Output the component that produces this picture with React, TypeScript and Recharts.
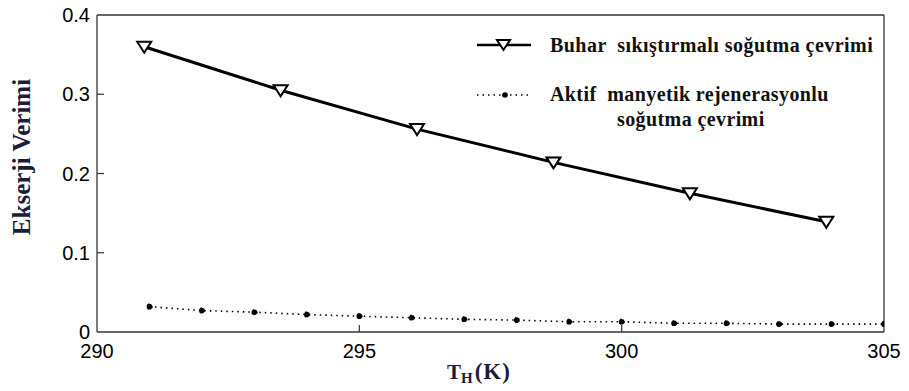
import { LineChart, Line, XAxis, YAxis } from "recharts";

// Buhar sıkıştırmalı soğutma çevrimi (triangles)
const vaporT = [290.9, 293.5, 296.1, 298.7, 301.3, 303.9];
const vaporEff = [0.36, 0.305, 0.256, 0.214, 0.175, 0.139];

// Aktif manyetik rejenerasyonlu soğutma çevrimi (dots)
const magT = [291, 292, 293, 294, 295, 296, 297, 298, 299, 300, 301, 302, 303, 304, 305];
const magEff = [0.032, 0.027, 0.025, 0.022, 0.02, 0.018, 0.016, 0.015, 0.013, 0.013, 0.011, 0.011, 0.01, 0.01, 0.01];

const xTicks = [290, 295, 300, 305];
const yTicks = [0, 0.1, 0.2, 0.3, 0.4];

const vaporData = vaporT.map((x, i) => ({ x, y: vaporEff[i] }));
const magData = magT.map((x, i) => ({ x, y: magEff[i] }));

const AXIS = "#333";
const TICK_FONT = "'Liberation Sans', Arial, sans-serif";
const SERIF = "'Liberation Serif', 'Times New Roman', serif";

const LeftTick = (props: any) => {
  const { x, y, payload } = props;
  const v = payload.value;
  return (
    <g>
      {v > 0 && v < 0.4 && <line x1={x} x2={x + 7} y1={y} y2={y} stroke={AXIS} strokeWidth={1.2} />}
      <text x={x - 7} y={y} dy={7} textAnchor="end" fontSize={20} fontFamily={TICK_FONT} fill="#000">
        {v === 0 ? "0" : v.toFixed(1)}
      </text>
    </g>
  );
};

const RightTick = (props: any) => {
  const { x, y, payload } = props;
  const v = payload.value;
  if (v <= 0 || v >= 0.4) return <g />;
  return <line x1={x} x2={x - 7} y1={y} y2={y} stroke={AXIS} strokeWidth={1.2} />;
};

const BottomTick = (props: any) => {
  const { x, y, payload } = props;
  const v = payload.value;
  return (
    <g>
      {v > 290 && v < 305 && <line x1={x} x2={x} y1={y} y2={y - 7} stroke={AXIS} strokeWidth={1.2} />}
      <text x={x} y={y + 26} textAnchor="middle" fontSize={20} fontFamily={TICK_FONT} fill="#000">
        {v}
      </text>
    </g>
  );
};

const TopTick = (props: any) => {
  const { x, y, payload } = props;
  const v = payload.value;
  if (v <= 290 || v >= 305) return <g />;
  return <line x1={x} x2={x} y1={y} y2={y + 7} stroke={AXIS} strokeWidth={1.2} />;
};

const Triangle = (props: any) => {
  const { cx, cy, index } = props;
  if (cx == null || cy == null) return <g key={index} />;
  return (
    <path
      key={index}
      d={`M${cx - 7},${cy - 5} L${cx + 7},${cy - 5} L${cx},${cy + 6} Z`}
      fill="#fff"
      stroke="#000"
      strokeWidth={2}
    />
  );
};

export default function App() {
  return (
    <div style={{ position: "absolute", left: 0, top: 0, width: 909, height: 391, background: "#fff", overflow: "hidden" }}>
      <LineChart width={909} height={391} margin={{ top: 14, right: 24, bottom: 29, left: 37 }}>
        <XAxis
          xAxisId="b"
          type="number"
          dataKey="x"
          domain={[290, 305]}
          ticks={xTicks}
          allowDataOverflow
          height={30}
          tickSize={0}
          tickMargin={0}
          tickLine={false}
          axisLine={{ stroke: AXIS, strokeWidth: 1.3 }}
          tick={BottomTick}
        />
        <XAxis
          xAxisId="t"
          orientation="top"
          type="number"
          domain={[290, 305]}
          ticks={xTicks}
          height={1}
          tickSize={0}
          tickMargin={0}
          tickLine={false}
          axisLine={{ stroke: AXIS, strokeWidth: 1.3 }}
          tick={TopTick}
        />
        <YAxis
          yAxisId="l"
          type="number"
          domain={[0, 0.4]}
          ticks={yTicks}
          width={60}
          tickSize={0}
          tickMargin={0}
          tickLine={false}
          axisLine={{ stroke: AXIS, strokeWidth: 1.3 }}
          tick={LeftTick}
        />
        <YAxis
          yAxisId="r"
          orientation="right"
          type="number"
          domain={[0, 0.4]}
          ticks={yTicks}
          width={1}
          tickSize={0}
          tickMargin={0}
          tickLine={false}
          axisLine={{ stroke: AXIS, strokeWidth: 1.3 }}
          tick={RightTick}
        />
        <Line
          xAxisId="b"
          yAxisId="l"
          data={magData}
          dataKey="y"
          type="linear"
          stroke="#000"
          strokeWidth={1.6}
          strokeDasharray="1.5 4"
          dot={{ r: 2.8, fill: "#000", stroke: "#000", strokeWidth: 1 }}
          isAnimationActive={false}
        />
        <Line
          xAxisId="b"
          yAxisId="l"
          data={vaporData}
          dataKey="y"
          type="linear"
          stroke="#000"
          strokeWidth={3}
          dot={Triangle}
          isAnimationActive={false}
        />
      </LineChart>

      {/* y axis title */}
      <div
        style={{
          position: "absolute",
          left: 21,
          top: 157,
          transform: "translate(-50%, -50%) rotate(-90deg)",
          fontFamily: SERIF,
          fontWeight: "bold",
          fontSize: 25,
          color: "#1c1c3a",
          whiteSpace: "nowrap",
          lineHeight: 1,
        }}
      >
        Ekserji Verimi
      </div>

      {/* x axis title */}
      <div
        style={{
          position: "absolute",
          left: 447,
          top: 361,
          fontFamily: SERIF,
          fontWeight: "bold",
          fontSize: 21,
          color: "#1c1c3a",
          whiteSpace: "nowrap",
          lineHeight: "22px",
        }}
      >
        T<span style={{ fontSize: 15, position: "relative", top: 4 }}>H</span>
        <span style={{ marginLeft: 2, fontSize: 23, letterSpacing: 1 }}>(K)</span>
      </div>

      {/* legend */}
      <div style={{ position: "absolute", left: 477, top: 30, fontFamily: SERIF, fontWeight: "bold", fontSize: 20, color: "#111" }}>
        <div style={{ display: "flex", alignItems: "center", height: 30 }}>
          <svg width={54} height={20}>
            <line x1={0} x2={54} y1={10} y2={10} stroke="#000" strokeWidth={2.5} />
            <path d="M20,5 L33,5 L26.5,15 Z" fill="#fff" stroke="#000" strokeWidth={2} />
          </svg>
          <span style={{ marginLeft: 19, whiteSpace: "pre", letterSpacing: 0.45 }}>Buhar  sıkıştırmalı soğutma çevrimi</span>
        </div>
        <div style={{ display: "flex", alignItems: "flex-start", marginTop: 22 }}>
          <svg width={54} height={20} style={{ marginTop: 3 }}>
            <line x1={0} x2={54} y1={10} y2={10} stroke="#000" strokeWidth={1.6} strokeDasharray="1.5 4" />
            <circle cx={28} cy={10} r={2.8} fill="#000" />
          </svg>
          <div style={{ marginLeft: 19, lineHeight: "25px", letterSpacing: 0.4 }}>
            <div style={{ whiteSpace: "pre" }}>Aktif  manyetik rejenerasyonlu</div>
            <div style={{ paddingLeft: 67 }}>soğutma çevrimi</div>
          </div>
        </div>
      </div>
    </div>
  );
}
